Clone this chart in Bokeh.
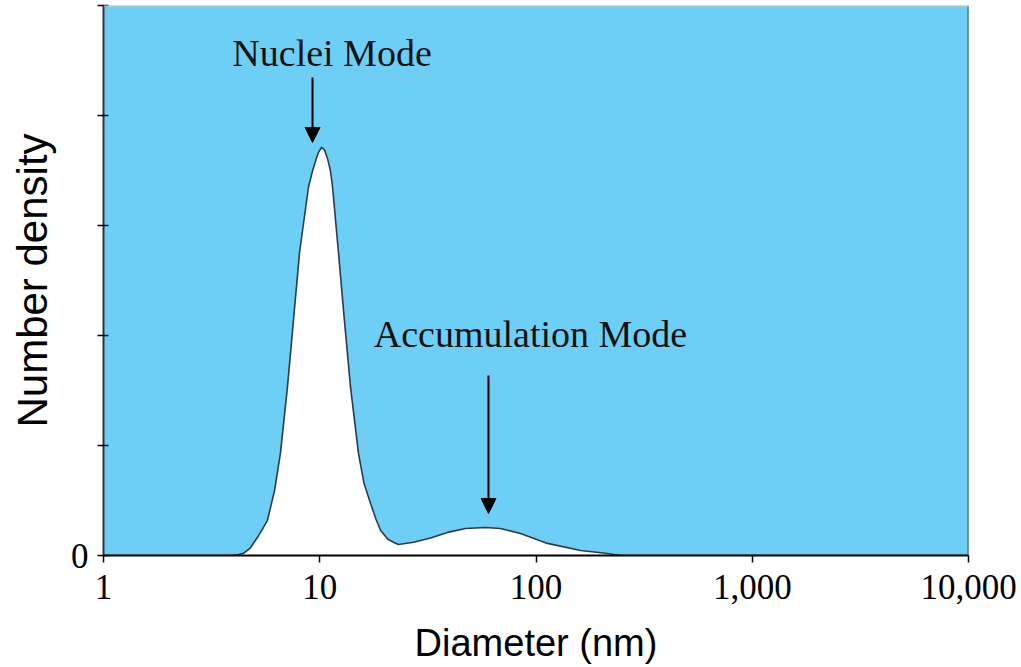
import numpy as np
from bokeh.plotting import figure
from bokeh.models import FixedTicker, Arrow, NormalHead, Label, Span
from bokeh.embed import file_html
from bokeh.resources import INLINE

# --- data ---
diameter_nm = [1, 3.5, 3.9, 4.2, 4.44, 4.78, 5.21, 5.45, 5.73, 6.18, 6.58, 7.09,
               7.56, 8.06, 8.87, 9.27, 9.68, 9.90, 10.19, 10.5, 10.86, 11.2,
               11.46, 12.21, 13.0, 13.88, 15.1, 16.0, 17.2, 18.2, 19.1, 20.6,
               21.9, 23.1, 27.2, 32.5, 39.0, 47.2, 58.4, 68.5, 84.8, 113, 161,
               214, 246, 10000]
number_density = [0, 0, 0, 0.008, 0.02, 0.07, 0.18, 0.245, 0.32, 0.59, 0.93, 1.53,
                  2.14, 2.75, 3.35, 3.50, 3.62, 3.67, 3.71, 3.69, 3.61, 3.50,
                  3.35, 2.75, 2.14, 1.53, 0.93, 0.66, 0.47, 0.33, 0.23, 0.15,
                  0.12, 0.10, 0.12, 0.16, 0.21, 0.245, 0.255, 0.245, 0.20, 0.11,
                  0.045, 0.018, 0, 0]
x_ticks = [1, 10, 100, 1000, 10000]
x_tick_labels = ["1", "10", "100", "1,000", "10,000"]
y_ticks = [0, 1, 2, 3, 4, 5]
y_tick_labels = ["0", "", "", "", "", ""]

mode_names = ["Nuclei Mode", "Accumulation Mode"]
mode_label_x = [11.4, 94.3]
mode_label_y = [4.564, 2.018]
arrow_x = [9.26, 60.3]
arrow_y_start = [4.345, 1.636]
arrow_y_end = [3.755, 0.382]

BLUE = "#6dcff6"
SERIF = "Liberation Serif"
SANS = "Liberation Sans"

p = figure(width=1021, height=667, x_axis_type="log", x_range=(1, 10000),
           y_range=(0, 5), output_backend="svg", toolbar_location=None,
           min_border_left=103, min_border_right=53, min_border_top=5,
           min_border_bottom=112)
p.background_fill_color = BLUE
p.border_fill_color = "white"
p.outline_line_color = None
p.grid.visible = False

p.varea(x=diameter_nm, y1=0, y2=number_density, fill_color="white")
p.line(x=diameter_nm, y=number_density, line_color="#2a3b4c", line_width=1.6,
       line_join="round")

# axes
p.xaxis.ticker = FixedTicker(ticks=x_ticks)
p.xaxis.major_label_overrides = {t: l for t, l in zip(x_ticks, x_tick_labels)}
p.xaxis.minor_tick_line_color = None
p.xaxis.major_tick_in = 0
p.xaxis.major_tick_out = 7
p.xaxis.major_label_standoff = 12
p.xaxis.axis_line_width = 2
p.xaxis.axis_line_color = "black"
p.xaxis.major_tick_line_width = 1.5

p.yaxis.ticker = FixedTicker(ticks=y_ticks)
p.yaxis.major_label_overrides = {t: l for t, l in zip(y_ticks, y_tick_labels)}
p.yaxis.minor_tick_line_color = None
p.yaxis.major_tick_in = 5
p.yaxis.major_tick_out = 6
p.yaxis.major_label_standoff = 9
p.yaxis.axis_line_width = 2
p.yaxis.axis_line_color = "#2a3440"
p.yaxis.major_tick_line_width = 1.5

for ax in (p.xaxis, p.yaxis):
    ax.major_label_text_font = SERIF
    ax.major_label_text_font_size = "35px"
    ax.major_label_text_color = "black"
    ax.axis_label_text_font = SANS
    ax.axis_label_text_font_style = "normal"
    ax.axis_label_text_color = "black"

p.xaxis.axis_label = "Diameter (nm)"
p.xaxis.axis_label_text_font_size = "38px"
p.xaxis.axis_label_standoff = 20
p.yaxis.axis_label = "Number density"
p.yaxis.axis_label_text_font_size = "42px"
p.yaxis.axis_label_standoff = 12

# frame borders (top light, right dark)
p.add_layout(Span(location=10000, dimension="height", line_color="#3c4c5a", line_width=2))
p.add_layout(Span(location=5, dimension="width", line_color="#d9d2c4", line_width=2))

# annotations
for name, lx, ly in zip(mode_names, mode_label_x, mode_label_y):
    p.add_layout(Label(x=lx, y=ly, text=name, text_align="center",
                       text_baseline="alphabetic", text_font=SERIF,
                       text_font_size="38px", text_color="#111111"))
for ax_, ys, ye in zip(arrow_x, arrow_y_start, arrow_y_end):
    p.add_layout(Arrow(end=NormalHead(size=15, fill_color="black", line_color="black"),
                       x_start=ax_, y_start=ys, x_end=ax_, y_end=ye,
                       line_width=2, line_color="black"))

open("out.html", "w").write(file_html(p, INLINE))
